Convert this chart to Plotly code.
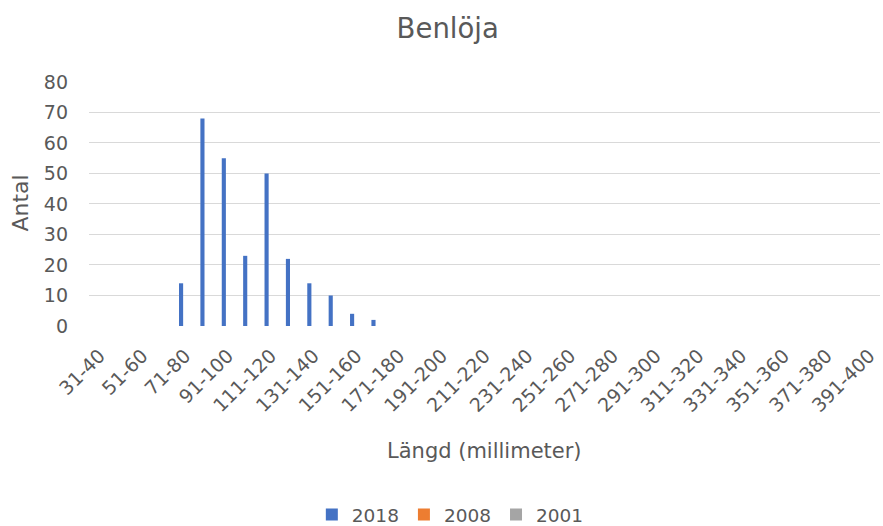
import plotly.graph_objects as go

# Length classes (mm), 31-40 through 391-400
categories = [f"{lo}-{lo + 9}" for lo in range(31, 400, 10)]

# Counts per length class; 2018 survey, no catches recorded for 2008 / 2001
counts_2018 = [0, 0, 0, 0, 14, 68, 55, 23, 50, 22, 14, 10, 4, 2] + [0] * 23
counts_2008 = [None] * len(categories)
counts_2001 = [None] * len(categories)

y_ticks = [0, 10, 20, 30, 40, 50, 60, 70, 80]
x_ticks = categories[::2]

FONT = "DejaVu Sans"
GREY = "#595959"

fig = go.Figure()
fig.add_trace(go.Bar(name="2018", x=categories,
                     y=[v if v else None for v in counts_2018],
                     marker=dict(color="#4472C4", line=dict(width=0))))
fig.add_trace(go.Bar(name="2008", x=categories, y=counts_2008,
                     marker=dict(color="#ED7D31", line=dict(width=0))))
fig.add_trace(go.Bar(name="2001", x=categories, y=counts_2001,
                     marker=dict(color="#A5A5A5", line=dict(width=0))))

fig.update_layout(
    width=883, height=526,
    margin=dict(l=89, r=3, t=81, b=200),
    paper_bgcolor="white", plot_bgcolor="white",
    font=dict(family=FONT, color=GREY, size=19),
    barmode="group", bargap=0.42, bargroupgap=0,
    title=dict(text="Benlöja", x=0.507, xanchor="center", xref="container",
               y=1 - 28 / 526, yanchor="middle", yref="container",
               font=dict(size=27.5, color=GREY, family=FONT)),
    showlegend=True,
    legend=dict(orientation="h", xref="container", yref="container",
                x=0.51, xanchor="center", y=1 - 515 / 526, yanchor="middle",
                font=dict(size=18.5, color=GREY, family=FONT),
                itemwidth=30, traceorder="normal"),
)

fig.update_xaxes(
    type="category", categoryorder="array", categoryarray=categories,
    range=[-0.5, len(categories) - 0.5],
    tickmode="array", tickvals=x_ticks, ticktext=x_ticks,
    tickangle=-45, ticklabelstandoff=14,
    showgrid=False, showline=False, zeroline=False, ticks="",
    tickfont=dict(size=19, color=GREY, family=FONT),
)
fig.update_yaxes(
    range=[0, 80.3], tickmode="array", tickvals=y_ticks,
    showgrid=True, gridcolor="#D9D9D9", gridwidth=1.3,
    zeroline=False, showline=False, ticks="", ticklabelstandoff=20,
    tickfont=dict(size=19, color=GREY, family=FONT),
)

fig.add_annotation(text="Längd (millimeter)", xref="paper", yref="paper",
                   x=0.5, y=(326 - 451) / 245, xanchor="center", yanchor="middle",
                   showarrow=False, font=dict(size=21, color=GREY, family=FONT))
fig.add_annotation(text="Antal", xref="paper", yref="paper",
                   x=(20 - 89) / 791, y=0.5, xanchor="center", yanchor="middle",
                   textangle=-90, showarrow=False,
                   font=dict(size=22, color=GREY, family=FONT))

fig.write_html("out.html")
